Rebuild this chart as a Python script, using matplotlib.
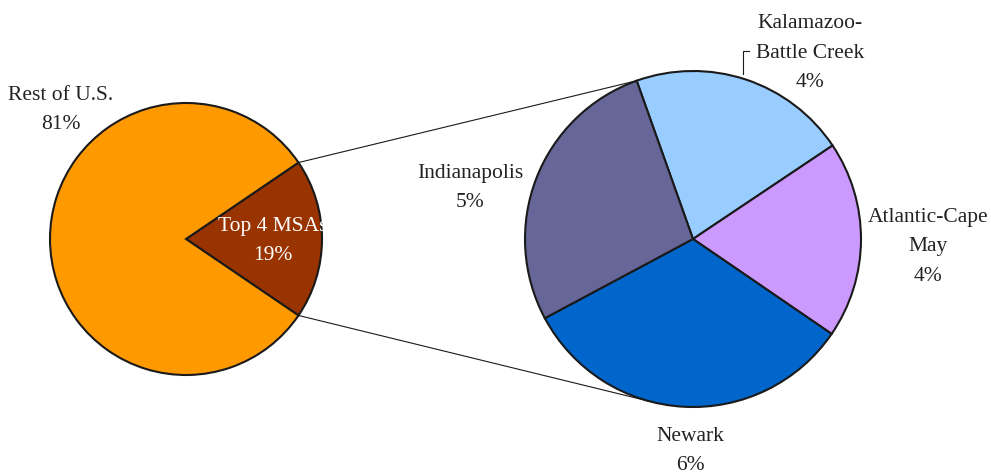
import matplotlib
import numpy as np

matplotlib.use("Agg")
import matplotlib.pyplot as plt  # noqa: E402

plt.rcParams["font.family"] = ["Liberation Serif", "DejaVu Serif"]

# share of total, U.S. vs the four MSAs
overview_labels = ["Top 4 MSAs", "Rest of U.S."]
overview_values = [19, 81]
overview_colors = ["#993300", "#FF9900"]

# breakdown of the top 4 MSAs (percent of U.S. total)
msa_labels = ["Kalamazoo-\nBattle Creek", "Atlantic-Cape\nMay", "Newark", "Indianapolis"]
msa_values = [4.0, 3.6, 6.2, 5.2]
msa_colors = ["#99CCFF", "#CC99FF", "#0066CC", "#666699"]

W, H = 991, 477
EDGE = "#1a1a1a"


def px(x, y):
    """pixel coords (origin top-left) -> axes data coords"""
    return x, H - y


fig = plt.figure(figsize=(W / 100, H / 100), dpi=100)
ax = fig.add_axes([0, 0, 1, 1])

left_c, left_r = px(186, 240), 136
right_c, right_r = px(693, 240), 168

half = overview_values[0] / sum(overview_values) * 360 / 2
ax.pie(overview_values, colors=overview_colors, center=left_c, radius=left_r,
       startangle=-half, counterclock=True, frame=True,
       wedgeprops={"edgecolor": EDGE, "linewidth": 1.5})

start = 109.6
ax.pie(msa_values, colors=msa_colors, center=right_c, radius=right_r,
       startangle=start, counterclock=False, frame=True,
       wedgeprops={"edgecolor": EDGE, "linewidth": 1.5})
ax.set_xlim(0, W)
ax.set_ylim(0, H)
ax.set_aspect("equal")
ax.axis("off")


def on_circle(c, r, deg):
    a = np.deg2rad(deg)
    return c[0] + r * np.cos(a), c[1] + r * np.sin(a)


# connector lines from the top-4 wedge to the breakdown pie
p1 = on_circle(left_c, left_r, half)
q1 = on_circle(right_c, right_r, start)
p2 = on_circle(left_c, left_r, -half)
q2 = on_circle(right_c, right_r, -103)
for p, q in ((p1, q1), (p2, q2)):
    ax.plot([p[0], q[0]], [p[1], q[1]], color=EDGE, lw=0.8, zorder=0.5)

fs = 15.5
txt = dict(fontsize=fs, ha="center", va="center", linespacing=1.72, color="#222222")

ax.text(*px(61, 110), f"{overview_labels[1]}\n{overview_values[1]}%", **txt)
ax.text(*px(273, 241), f"{overview_labels[0]}\n{overview_values[0]}%",
        **{**txt, "color": "white"})

ax.text(*px(810, 53), f"{msa_labels[0]}\n{msa_values[0]:.0f}%", **txt)
ax.text(*px(928, 247), f"{msa_labels[1]}\n{msa_values[1]:.0f}%", **txt)
ax.text(*px(690, 451), f"{msa_labels[2]}\n{msa_values[2]:.0f}%", **txt)
ax.text(*px(470, 188), f"{msa_labels[3]}\n{msa_values[3]:.0f}%", **txt)

# leader for the Kalamazoo label
lx = [743, 743, 749]
ly = [75, 52, 52]
ax.plot(lx, [H - y for y in ly], color=EDGE, lw=0.8)

fig.savefig("out.png", dpi=100)
